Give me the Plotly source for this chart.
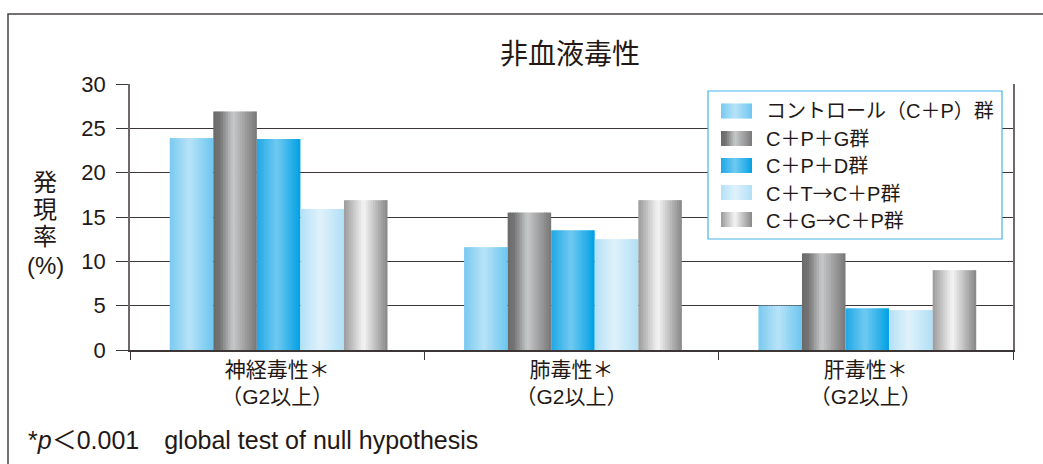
import plotly.graph_objects as go

# ---- data -------------------------------------------------------------
categories = ["神経毒性＊<br>（G2以上）", "肺毒性＊<br>（G2以上）", "肝毒性＊<br>（G2以上）"]
ARROW = "<span style='font-family:Noto Sans CJK JP'>→</span>"
series_names = ["コントロール（C＋P）群", "C＋P＋G群", "C＋P＋D群",
                "C＋T" + ARROW + "C＋P群", "C＋G" + ARROW + "C＋P群"]
control_cp = [23.9, 11.6, 5.0]
cpg = [26.9, 15.5, 10.9]
cpd = [23.8, 13.5, 4.7]
ct_cp = [15.9, 12.5, 4.5]
cg_cp = [16.9, 16.9, 9.0]
series_values = [control_cp, cpg, cpd, ct_cp, cg_cp]
y_ticks = [0, 5, 10, 15, 20, 25, 30]

# cylinder-like horizontal gradients, one per series (position, colour)
gradients = [
    [(0.0, "#78c9f0"), (0.45, "#b8e3f8"), (1.0, "#6cc5ef")],
    [(0.0, "#6a6a6a"), (0.15, "#747474"), (0.45, "#c7c9ca"), (0.75, "#9c9c9c"), (1.0, "#777777")],
    [(0.0, "#1ea8e6"), (0.45, "#70caf1"), (1.0, "#00a0e4")],
    [(0.0, "#b3e0f6"), (0.45, "#e0f2fb"), (1.0, "#b0dff6")],
    [(0.0, "#9a9a9a"), (0.45, "#f5f5f5"), (1.0, "#868686")],
]

FONT = "Liberation Sans, Noto Sans CJK JP, sans-serif"
TEXT = "#231815"


def hex_rgb(h):
    h = h.lstrip("#")
    return tuple(int(h[i:i + 2], 16) for i in (0, 2, 4))


def grad_color(stops, t):
    for (p0, c0), (p1, c1) in zip(stops, stops[1:]):
        if p0 <= t <= p1:
            f = 0 if p1 == p0 else (t - p0) / (p1 - p0)
            a, b = hex_rgb(c0), hex_rgb(c1)
            r = [round(a[i] + (b[i] - a[i]) * f) for i in range(3)]
            return "rgb({},{},{})".format(*r)
    return stops[-1][1]


# ---- layout geometry (pixels) -----------------------------------------
W, H = 1043, 464
L, R, T, B = 130, 1013, 84, 350


def px(x):
    return (x - L) / (R - L)


def py(y):
    return (B - y) / (B - T)


fig = go.Figure()

# bars: each bar is drawn as thin vertical strips to give a shaded look
bar_w = 0.148
n_strips = 18
strip_w = bar_w / n_strips
group_start = -bar_w * len(series_values) / 2 + 0.005
for s, vals in enumerate(series_values):
    for k in range(n_strips):
        t = (k + 0.5) / n_strips
        off = group_start + s * bar_w + k * strip_w
        w = strip_w * (1.35 if k < n_strips - 1 else 1.0)
        fig.add_trace(go.Bar(
            x=categories, y=vals,
            width=[w] * len(vals), offset=[off] * len(vals),
            marker=dict(color=grad_color(gradients[s], t), line=dict(width=0)),
            showlegend=False, hoverinfo="skip", name=series_names[s],
        ))

shapes = []
annotations = []

# outer frame
shapes.append(dict(type="rect", xref="paper", yref="paper",
                   x0=px(8), x1=px(W + 20), y0=py(H + 20), y1=py(14),
                   line=dict(color="#4a4343", width=1.5), layer="below"))

# legend box with gradient swatches
shapes.append(dict(type="rect", xref="paper", yref="paper",
                   x0=px(708), x1=px(1002), y0=py(239), y1=py(91),
                   line=dict(color="#45b4e6", width=1.2), fillcolor="white", layer="above"))
row_y = [111, 138.5, 165.5, 192.5, 219.5]
sw_x0, sw_x1, sw_h = 721, 752, 15
n_sw = 16
for s, name in enumerate(series_names):
    cy = row_y[s]
    for k in range(n_sw):
        t = (k + 0.5) / n_sw
        x0 = sw_x0 + (sw_x1 - sw_x0) * k / n_sw
        x1 = sw_x0 + (sw_x1 - sw_x0) * (k + 1) / n_sw + 0.6
        shapes.append(dict(type="rect", xref="paper", yref="paper",
                           x0=px(x0), x1=px(min(x1, sw_x1)), y0=py(cy + sw_h / 2), y1=py(cy - sw_h / 2),
                           line=dict(width=0), fillcolor=grad_color(gradients[s], t), layer="above"))
    annotations.append(dict(text=name, xref="paper", yref="paper", x=px(764), y=py(cy),
                            xanchor="left", yanchor="middle", showarrow=False,
                            font=dict(family=FONT, size=20, color=TEXT)))

# title
annotations.append(dict(text="非血液毒性", xref="paper", yref="paper", x=px(570), y=py(55),
                        xanchor="center", yanchor="middle", showarrow=False,
                        font=dict(family=FONT, size=28, color=TEXT)))
# y-axis title, one glyph per row
for ch, yy in zip(["発", "現", "率", "(%)"], [182, 209, 236, 265]):
    annotations.append(dict(text=ch, xref="paper", yref="paper", x=px(45), y=py(yy),
                            xanchor="center", yanchor="middle", showarrow=False,
                            font=dict(family=FONT, size=24, color=TEXT)))
# footnote
annotations.append(dict(text="*<i>p</i>＜0.001　global test of null hypothesis",
                        xref="paper", yref="paper",
                        x=px(26), y=py(440), xanchor="left", yanchor="middle", showarrow=False,
                        font=dict(family=FONT, size=25, color=TEXT)))

fig.update_layout(
    width=W, height=H,
    margin=dict(l=L, r=W - R, t=T, b=H - B),
    paper_bgcolor="white", plot_bgcolor="white",
    barmode="overlay",
    showlegend=False,
    font=dict(family=FONT, color=TEXT),
    shapes=shapes,
    annotations=annotations,
    xaxis=dict(
        type="category",
        showline=True, linecolor="#3c3636", linewidth=1.5,
        ticks="outside", tickson="boundaries", ticklen=8, tickcolor="#3c3636", tickwidth=1,
        tickfont=dict(family=FONT, size=21, color=TEXT),
        showgrid=False, fixedrange=True,
    ),
    yaxis=dict(
        range=[0, 30], tickvals=y_ticks,
        showline=True, mirror=True, linecolor="#6e6868", linewidth=1.5,
        ticks="outside", ticklen=12, tickcolor="#3c3636", tickwidth=1.2,
        tickfont=dict(family=FONT, size=22, color=TEXT),
        showgrid=True, gridcolor="#3c3636", gridwidth=1.3,
        zeroline=False, fixedrange=True, ticklabelstandoff=6,
    ),
)

fig.write_html("out.html")
